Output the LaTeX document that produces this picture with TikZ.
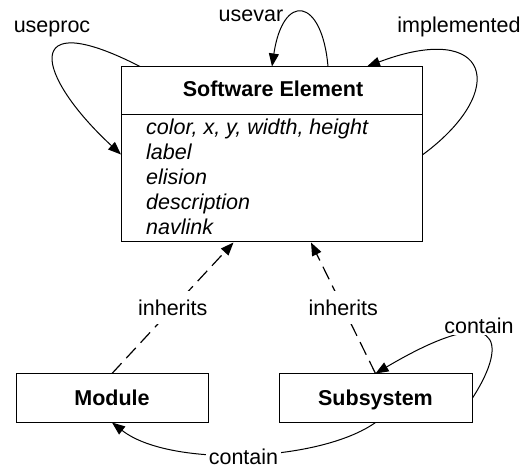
\documentclass[tikz,border=0pt]{standalone}
\usepackage{fontspec}
\setmainfont{Liberation Sans}
\usetikzlibrary{arrows.meta}
\begin{document}
\begin{tikzpicture}[x=1pt,y=-1pt,
  every node/.style={font=\fontsize{21.5}{25}\selectfont},
  box/.style={draw=black, line width=1pt, inner sep=0pt},
  boxtext/.style={font=\fontsize{21.5}{25}\selectfont\bfseries, text height=15pt, text depth=0pt},
  attr/.style={anchor=base west, inner sep=0pt, font=\fontsize{21.5}{25}\selectfont\itshape},
  lbl/.style={anchor=base, inner sep=0pt},
  cutlbl/.style={fill=white, inner xsep=2pt, inner ysep=9pt, text height=15pt, text depth=0pt},
  filllbl/.style={lbl, fill=white, inner xsep=3pt, inner ysep=1pt},
  link/.style={line width=1pt, -{Triangle[length=13pt,width=10pt]}},
  inh/.style={link, line width=1.2pt, dash pattern=on 14pt off 7pt}]
\useasboundingbox (0,0) rectangle (523,468);

% class boxes
\node[box, minimum width=301pt, minimum height=175pt] (se) at (272,154.5) {};
\coordinate (sep) at (0,115);
\draw[line width=1pt] (se.west |- sep) -- (se.east |- sep);
\node[lbl, font=\fontsize{21.5}{25}\selectfont\bfseries] (setitle) at (273,97) {Software Element};
\node[attr] (a1) at (146,135) {color, x, y, width, height};
\node[attr] (a2) at (146,160) {label};
\node[attr] (a3) at (146,185) {elision};
\node[attr] (a4) at (146,210) {description};
\node[attr] (a5) at (146,235) {navlink};

\node[box, boxtext, minimum width=192pt, minimum height=48pt] (mod) at (112,398) {Module};
\node[box, boxtext, minimum width=193pt, minimum height=48pt] (sub) at (375.5,398) {Subsystem};

% self references of the software element
\draw[link] ([xshift=19pt]se.north west) .. controls (20,5) and (35,75) .. (se.west);
\node[lbl] (useproc) at (52,33) {useproc};
\draw[link] ([xshift=56pt]se.north) .. controls (322,-3) and (283,-8) .. (se.north);
\node[lbl] (usevar) at (251,21.7) {usevar};
\draw[link] (se.east) .. controls (510,90) and (490,20) .. ([xshift=95pt]se.north);
\node[lbl] (impl) at (459,33) {implemented};

% inheritance
\draw[inh] (mod.north) -- node[cutlbl] (inh1) {inherits} ([xshift=-38.5pt]se.south);
\draw[inh] (sub.north) -- node[cutlbl] (inh2) {inherits} ([xshift=39pt]se.south);

% containment
\draw[link] (sub.east) .. controls (510,340) and (500,300) .. (sub.north);
\draw[link] (sub.south) .. controls (320,462) and (170,468) .. (mod.south);
\node[filllbl] (cont1) at (479,334) {contain};
\node[filllbl] (cont2) at (243.5,464) {contain};
\end{tikzpicture}
\end{document}
